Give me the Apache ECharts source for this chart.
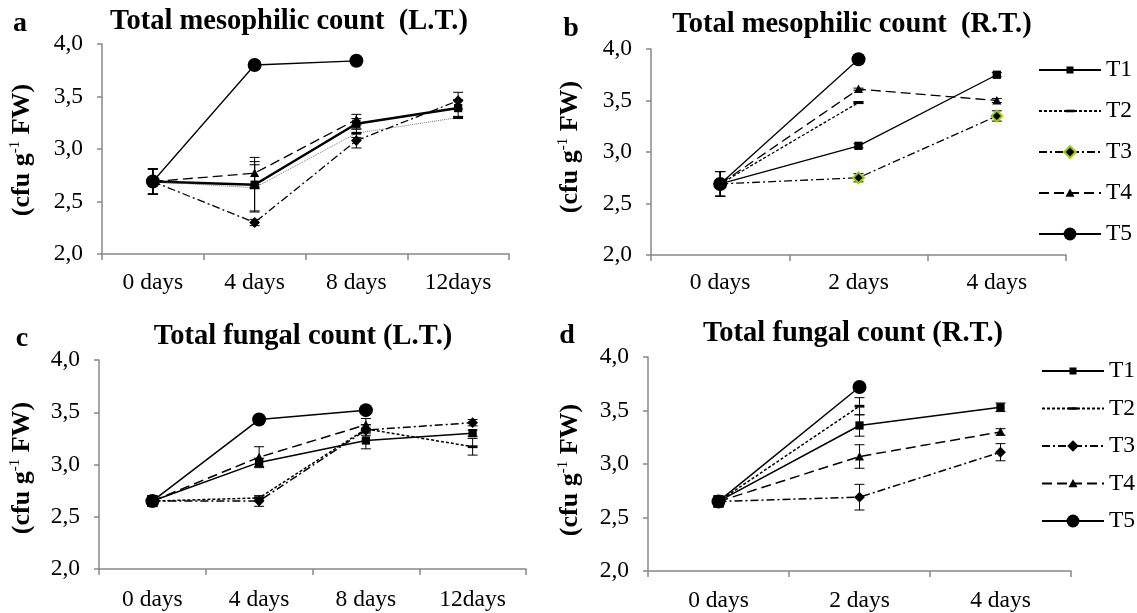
<!DOCTYPE html>
<html><head><meta charset="utf-8">
<script src="https://cdn.jsdelivr.net/npm/echarts@6/dist/echarts.min.js"></script>
<style>html,body{margin:0;padding:0;background:#fff}#c{width:1137px;height:613px}</style>
</head><body><div id="c"></div>
<script>
// ---------- DATA ----------
const catsLT = ['0 days', '4 days', '8 days', '12days'];
const catsRT = ['0 days', '2 days', '4 days'];
const treatments = ['T1', 'T2', 'T3', 'T4', 'T5'];
const yMin = 2.0, yMax = 4.0, yStep = 0.5;

// a: Total mesophilic count (L.T.)
const aT1 = [2.69, 2.66, 3.24, 3.39];  const aT1err = [0.12, 0.26, 0.05, 0.08];
const aT2 = [2.69, 2.63, 3.15, 3.30];  const aT2err = [0.12, 0.22, 0.04, 0.01];
const aT3 = [2.69, 2.30, 3.08, 3.46];  const aT3err = [0.12, 0.03, 0.07, 0.08];
const aT4 = [2.69, 2.77, 3.28, null];  const aT4err = [0.12, 0.11, 0.05, null];
const aT5 = [2.69, 3.80, 3.84, null];  const aT5err = [0.12, 0, 0, null];
// b: Total mesophilic count (R.T.)
const bT1 = [2.69, 3.06, 3.75];  const bT1err = [0.12, 0.02, 0.02];
const bT2 = [2.69, 3.48, null];  const bT2err = [0.12, 0.01, null];
const bT3 = [2.69, 2.75, 3.35];  const bT3err = [0.12, 0.04, 0.05];
const bT4 = [2.69, 3.61, 3.50];  const bT4err = [0.12, 0.01, 0.02];
const bT5 = [2.69, 3.90, null];  const bT5err = [0.12, 0, null];
// c: Total fungal count (L.T.)
const cT1 = [2.65, 3.02, 3.23, 3.30];  const cT1err = [0.05, 0.04, 0.08, 0.03];
const cT2 = [2.65, 2.68, 3.34, 3.17];  const cT2err = [0.05, 0.02, 0.04, 0.08];
const cT3 = [2.65, 2.65, 3.33, 3.40];  const cT3err = [0.05, 0.05, 0.05, 0.03];
const cT4 = [2.65, 3.07, 3.38, null];  const cT4err = [0.05, 0.10, 0.06, null];
const cT5 = [2.65, 3.43, 3.52, null];  const cT5err = [0.05, 0, 0, null];
// d: Total fungal count (R.T.)
const dT1 = [2.65, 3.36, 3.53];  const dT1err = [0.05, 0.10, 0.04];
const dT2 = [2.65, 3.54, null];  const dT2err = [0.05, 0.08, null];
const dT3 = [2.65, 2.69, 3.11];  const dT3err = [0.05, 0.12, 0.08];
const dT4 = [2.65, 3.07, 3.30];  const dT4err = [0.05, 0.11, 0.03];
const dT5 = [2.65, 3.72, null];  const dT5err = [0.05, 0, null];

const panelTitles = ['Total mesophilic count  (L.T.)', 'Total mesophilic count  (R.T.)',
                     'Total fungal count (L.T.)', 'Total fungal count (R.T.)'];
const panelLetters = ['a', 'b', 'c', 'd'];

// ---------- LAYOUT / STYLE ----------
const FONT = "'Liberation Serif', 'Times New Roman', serif";
const panels = [
  { cats: catsLT, vals: [aT1, aT2, aT3, aT4, aT5], errs: [aT1err, aT2err, aT3err, aT4err, aT5err],
    grid: { left: 102, top: 44, width: 407, height: 210 }, lblMargin: 17,
    title: [289, 22], letter: [20, 24], yname: [22, 150], wide: true },
  { cats: catsRT, vals: [bT1, bT2, bT3, bT4, bT5], errs: [bT1err, bT2err, bT3err, bT4err, bT5err],
    grid: { left: 651, top: 49, width: 415, height: 206 }, lblMargin: 16,
    title: [852, 25], letter: [571, 29], yname: [570, 147], green: true },
  { cats: catsLT, vals: [cT1, cT2, cT3, cT4, cT5], errs: [cT1err, cT2err, cT3err, cT4err, cT5err],
    grid: { left: 99, top: 360, width: 427, height: 209 }, lblMargin: 19,
    title: [303, 337], letter: [22, 339], yname: [22, 468] },
  { cats: catsRT, vals: [dT1, dT2, dT3, dT4, dT5], errs: [dT1err, dT2err, dT3err, dT4err, dT5err],
    grid: { left: 648, top: 357, width: 423, height: 214 }, lblMargin: 18,
    title: [853, 334], letter: [567, 336], yname: [570, 470] }
];

const SYM = {
  T1: 'path://M0,0M20,20M4.5,4.5H15.5V15.5H4.5Z',
  T2: 'path://M0,0M20,20M3,8H17V12H3Z',
  T3: 'path://M0,0M20,20M10,1L19,10L10,19L1,10Z',
  T4: 'path://M0,0M20,20M10,3L17,16H3Z',
  T5: 'circle'
};
const SYMSIZE = { T1: 15, T2: 14, T3: 12, T4: 13, T5: 14 };
const DASH = { T1: 'solid', T2: [3, 2], T3: [8, 3, 2, 3], T4: [10, 5], T5: 'solid' };
const AXIS_COLOR = '#888888';

const grids = [], xAxes = [], yAxes = [], series = [], graphics = [];

function errRender(params, api) {
  const x = api.value(0), y = api.value(1), e = api.value(2);
  const hi = api.coord([x, y + e]);
  const lo = api.coord([x, y - e]);
  const w = 5;
  const st = { stroke: '#000', lineWidth: 1 };
  return { type: 'group', children: [
    { type: 'line', shape: { x1: hi[0], y1: hi[1], x2: lo[0], y2: lo[1] }, style: st },
    { type: 'line', shape: { x1: hi[0] - w, y1: hi[1], x2: hi[0] + w, y2: hi[1] }, style: st },
    { type: 'line', shape: { x1: lo[0] - w, y1: lo[1], x2: lo[0] + w, y2: lo[1] }, style: st }
  ]};
}

// order: panel b first so legend icons take panel b's style
const order = [1, 0, 2, 3];
panels.forEach((p, pi) => {
  grids.push(Object.assign({ containLabel: false, outerBoundsMode: 'none' }, p.grid));
  xAxes.push({
    type: 'category', gridIndex: pi, data: p.cats, boundaryGap: true,
    axisLine: { show: true, lineStyle: { color: AXIS_COLOR, width: 1.5 } },
    axisTick: { show: true, length: 6, lineStyle: { color: AXIS_COLOR, width: 1.5 } },
    axisLabel: { fontFamily: FONT, fontSize: 23.5, color: '#000', margin: p.lblMargin },
    splitLine: { show: false }
  });
  yAxes.push({
    type: 'value', gridIndex: pi, min: yMin, max: yMax, interval: yStep,
    axisLine: { show: true, lineStyle: { color: AXIS_COLOR, width: 1.5 } },
    axisTick: { show: true, length: 5, lineStyle: { color: AXIS_COLOR, width: 1.5 } },
    axisLabel: { fontFamily: FONT, fontSize: 23.5, color: '#000', margin: 19,
      formatter: v => v.toFixed(1).replace('.', ',') },
    splitLine: { show: false }
  });
  graphics.push({ type: 'text', x: p.title[0], y: p.title[1],
    style: { text: panelTitles[pi], font: 'bold 28.5px ' + FONT, fill: '#000', align: 'center', verticalAlign: 'middle' } });
  graphics.push({ type: 'text', x: p.letter[0], y: p.letter[1],
    style: { text: panelLetters[pi], font: 'bold 28px ' + FONT, fill: '#000', align: 'center', verticalAlign: 'middle' } });
  graphics.push({ type: 'text', x: p.yname[0], y: p.yname[1], rotation: Math.PI / 2,
    style: { text: '{m|(cfu g}{s|-1}{m| FW)}', align: 'center', verticalAlign: 'middle', fill: '#000',
      rich: { m: { fontFamily: FONT, fontWeight: 'bold', fontSize: 26, lineHeight: 28, fill: '#000' },
              s: { fontFamily: FONT, fontWeight: 'normal', fontSize: 15, lineHeight: 28, verticalAlign: 'top', fill: '#000' } } } });
});

order.forEach(pi => {
  const p = panels[pi];
  treatments.forEach((t, ti) => {
    let lw = 1.3, color = '#000', dash = DASH[t];
    if (p.wide && t === 'T1') lw = 2.5;
    if (p.wide && t === 'T2') { lw = 0.8; color = '#555'; dash = [1, 1]; }
    if (pi >= 2) lw = 1.5;
    const item = { color: '#000', borderColor: '#000', borderWidth: 0 };
    if (p.green && t === 'T3') { item.borderColor = '#99cc00'; item.borderWidth = 2; }
    series.push({
      type: 'line', name: t, xAxisIndex: pi, yAxisIndex: pi,
      data: p.vals[ti], symbol: SYM[t], symbolSize: SYMSIZE[t], showSymbol: true,
      lineStyle: { color: color, width: lw, type: dash },
      itemStyle: item, z: 3, animation: false
    });
  });
  const errData = [];
  treatments.forEach((t, ti) => {
    p.vals[ti].forEach((v, i) => {
      const e = p.errs[ti][i];
      if (v != null && e) errData.push([i, v, e]);
    });
  });
  series.push({ type: 'custom', name: 'err' + pi, xAxisIndex: pi, yAxisIndex: pi,
    data: errData, renderItem: errRender, encode: { x: 0, y: 1 }, z: 2, animation: false, silent: true });
});

const legendCommon = {
  orient: 'vertical', itemWidth: 62, itemHeight: 16, selectedMode: false,
  textStyle: { fontFamily: FONT, fontSize: 23.5, color: '#000' }
};
const option = {
  backgroundColor: '#fff', animation: false,
  grid: grids, xAxis: xAxes, yAxis: yAxes, series: series,
  legend: [
    Object.assign({}, legendCommon, { left: 1033, top: 53, itemGap: 17,
      data: ['T1', 'T2', { name: 'T3', itemStyle: { color: '#000', borderColor: '#99cc00', borderWidth: 2 } }, 'T4', 'T5'] }),
    Object.assign({}, legendCommon, { left: 1036, top: 354, itemGap: 13.5,
      data: ['T1', 'T2', { name: 'T3', itemStyle: { color: '#000', borderColor: '#000', borderWidth: 0 } }, 'T4', 'T5'] })
  ],
  graphic: graphics
};
const chart = echarts.init(document.getElementById('c'), null, { renderer: 'canvas' });
chart.setOption(option);
</script></body></html>
